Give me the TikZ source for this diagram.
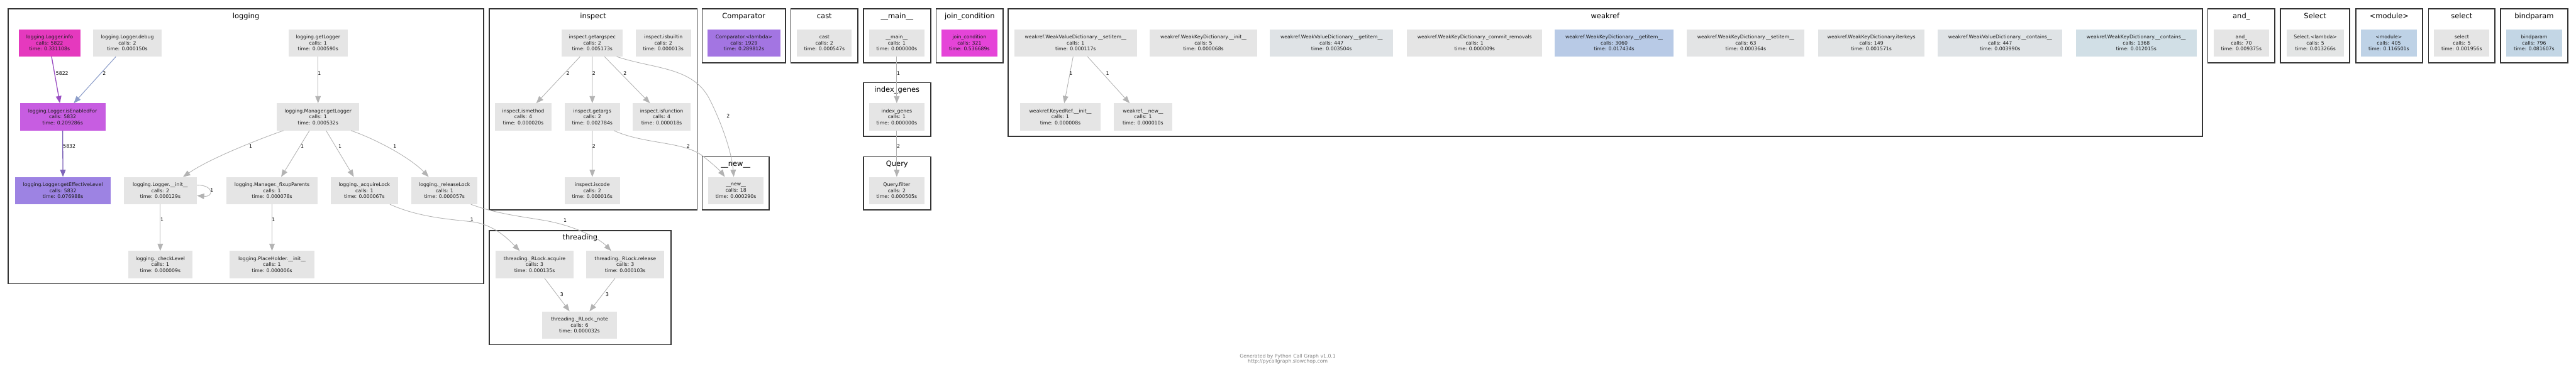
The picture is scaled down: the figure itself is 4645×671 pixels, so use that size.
\documentclass[tikz,border=0pt]{standalone}
\usepackage{fontspec}
\setmainfont{DejaVu Sans}
\usetikzlibrary{arrows.meta}
\definecolor{ngray}{HTML}{E5E5E5}
\definecolor{cbord}{HTML}{333333}
\definecolor{egray}{HTML}{B3B3B3}
\definecolor{txt}{HTML}{1A1A1A}
\definecolor{foot}{HTML}{808080}
\newcommand\nfont{\fontsize{8.8}{11}\selectfont}
\newcommand\clfont{\fontsize{13}{15}\selectfont}
\tikzset{
  fn/.style={rectangle, fill=ngray, draw=none, minimum height=49pt, inner sep=0pt, align=center, font=\nfont, text=txt},
  clbox/.style={draw=cbord, line width=2pt},
  cllab/.style={font=\clfont, anchor=base, text=black, inner sep=0pt},
  elab/.style={font=\nfont, text=black, inner sep=0pt},
  edg/.style={draw=egray, line width=1pt, -{Triangle[length=13pt,width=10pt]}},
}
\begin{document}
\begin{tikzpicture}[x=1pt,y=-1pt]
\useasboundingbox (0,0) rectangle (4645,671);
\fill[white] (0,0) rectangle (4645,671);

% clusters
\draw[clbox] (15,16) rectangle (872,512);
\node[cllab] (c-logging) at (443.5,33) {logging};
\draw[clbox] (882,16) rectangle (1257,379);
\node[cllab] (c-inspect) at (1069.5,33) {inspect};
\draw[clbox] (882,416) rectangle (1210,622);
\node[cllab] (c-threading) at (1046,433) {threading};
\draw[clbox] (1266,16) rectangle (1416,113);
\node[cllab] (c-comp) at (1341,33) {Comparator};
\draw[clbox] (1426,16) rectangle (1547,113);
\node[cllab] (c-cast) at (1486.5,33) {cast};
\draw[clbox] (1557,16) rectangle (1678,113);
\node[cllab] (c-main) at (1617.5,33) {\_\_main\_\_};
\draw[clbox] (1688,16) rectangle (1809,113);
\node[cllab] (c-join) at (1748.5,33) {join\_condition};
\draw[clbox] (1557,149) rectangle (1678,246);
\node[cllab] (c-ig) at (1617.5,166) {index\_genes};
\draw[clbox] (1557,283) rectangle (1678,379);
\node[cllab] (c-query) at (1617.5,300) {Query};
\draw[clbox] (1266,283) rectangle (1387,379);
\node[cllab] (c-new) at (1326.5,300) {\_\_new\_\_};
\draw[clbox] (1818,16) rectangle (3971,246);
\node[cllab] (c-weakref) at (2894.5,33) {weakref};
\draw[clbox] (3981,16) rectangle (4102,113);
\node[cllab] (c-and) at (4041.5,33) {and\_};
\draw[clbox] (4112,16) rectangle (4237,113);
\node[cllab] (c-select) at (4174.5,33) {Select};
\draw[clbox] (4248,16) rectangle (4368,113);
\node[cllab] (c-module) at (4308,33) {<module>};
\draw[clbox] (4379,16) rectangle (4499,113);
\node[cllab] (c-slc) at (4439,33) {select};
\draw[clbox] (4509,16) rectangle (4630,113);
\node[cllab] (c-bp) at (4569.5,33) {bindparam};

% logging nodes
\node[fn, fill={rgb,255:red,229;green,57;blue,190}, minimum width=111pt] (info) at (89.5,77.5) {logging.Logger.info\\calls: 5822\\time: 0.331108s};
\node[fn, minimum width=123pt] (debug) at (229.5,77.5) {logging.Logger.debug\\calls: 2\\time: 0.000150s};
\node[fn, minimum width=107pt] (getlogger) at (573.5,77.5) {logging.getLogger\\calls: 1\\time: 0.000590s};
\node[fn, fill={rgb,255:red,199;green,93;blue,225}, minimum width=154pt] (ien) at (113,211) {logging.Logger.isEnabledFor\\calls: 5832\\time: 0.209286s};
\node[fn, minimum width=149pt] (mgl) at (573.5,211) {logging.Manager.getLogger\\calls: 1\\time: 0.000532s};
\node[fn, fill={rgb,255:red,157;green,131;blue,227}, minimum width=173pt] (gel) at (113.5,344) {logging.Logger.getEffectiveLevel\\calls: 5832\\time: 0.076988s};
\node[fn, minimum width=132pt] (linit) at (289,344) {logging.Logger.\_\_init\_\_\\calls: 2\\time: 0.000129s};
\node[fn, minimum width=165pt] (fixup) at (490.5,344) {logging.Manager.\_fixupParents\\calls: 1\\time: 0.000078s};
\node[fn, minimum width=122pt] (acq) at (657,344) {logging.\_acquireLock\\calls: 1\\time: 0.000067s};
\node[fn, minimum width=119pt] (rel) at (801.5,344) {logging.\_releaseLock\\calls: 1\\time: 0.000057s};
\node[fn, minimum width=116pt] (chk) at (289,477.5) {logging.\_checkLevel\\calls: 1\\time: 0.000009s};
\node[fn, minimum width=153pt] (ph) at (490.5,477.5) {logging.PlaceHolder.\_\_init\_\_\\calls: 1\\time: 0.000006s};

% inspect nodes
\node[fn, minimum width=110pt] (gas) at (1068,77.5) {inspect.getargspec\\calls: 2\\time: 0.005173s};
\node[fn, minimum width=100pt] (isb) at (1196,77.5) {inspect.isbuiltin\\calls: 2\\time: 0.000013s};
\node[fn, minimum width=101pt] (ism) at (943.5,211) {inspect.ismethod\\calls: 4\\time: 0.000020s};
\node[fn, minimum width=100pt] (ga) at (1068,211) {inspect.getargs\\calls: 2\\time: 0.002784s};
\node[fn, minimum width=104pt] (isf) at (1193,211) {inspect.isfunction\\calls: 4\\time: 0.000018s};
\node[fn, minimum width=100pt] (isc) at (1068,344) {inspect.iscode\\calls: 2\\time: 0.000016s};

% threading nodes
\node[fn, minimum width=140pt] (ra) at (964,477.5) {threading.\_RLock.acquire\\calls: 3\\time: 0.000135s};
\node[fn, minimum width=141pt] (rr) at (1127.5,477.5) {threading.\_RLock.release\\calls: 3\\time: 0.000103s};
\node[fn, minimum width=134pt] (rn) at (1045,586.5) {threading.\_RLock.\_note\\calls: 6\\time: 0.000032s};

% small clusters
\node[fn, fill={rgb,255:red,163;green,117;blue,226}, minimum width=131pt] (comp) at (1341.5,77.5) {Comparator.<lambda>\\calls: 1929\\time: 0.289812s};
\node[fn, minimum width=99pt] (cast) at (1486.5,77.5) {cast\\calls: 2\\time: 0.000547s};
\node[fn, minimum width=100pt] (main) at (1617,77.5) {\_\_main\_\_\\calls: 1\\time: 0.000000s};
\node[fn, fill={rgb,255:red,229;green,68;blue,216}, minimum width=100pt] (join) at (1748,77.5) {join\_condition\\calls: 321\\time: 0.536689s};
\node[fn, minimum width=100pt] (ig) at (1617,211) {index\_genes\\calls: 1\\time: 0.000000s};
\node[fn, minimum width=100pt] (qf) at (1617,344) {Query.filter\\calls: 2\\time: 0.000505s};
\node[fn, minimum width=100pt] (new) at (1327,344) {\_\_new\_\_\\calls: 18\\time: 0.000290s};

% weakref nodes
\node[fn, minimum width=221pt] (wvset) at (1939.5,77.5) {weakref.WeakValueDictionary.\_\_setitem\_\_\\calls: 1\\time: 0.000117s};
\node[fn, minimum width=194pt] (wkinit) at (2170,77.5) {weakref.WeakKeyDictionary.\_\_init\_\_\\calls: 5\\time: 0.000068s};
\node[fn, fill={rgb,255:red,223;green,227;blue,230}, minimum width=222pt] (wvget) at (2401,77.5) {weakref.WeakValueDictionary.\_\_getitem\_\_\\calls: 447\\time: 0.003504s};
\node[fn, minimum width=244pt] (wkcommit) at (2659,77.5) {weakref.WeakKeyDictionary.\_commit\_removals\\calls: 1\\time: 0.000009s};
\node[fn, fill={rgb,255:red,184;green,202;blue,230}, minimum width=215pt] (wkget) at (2910.5,77.5) {weakref.WeakKeyDictionary.\_\_getitem\_\_\\calls: 3060\\time: 0.017434s};
\node[fn, fill={rgb,255:red,227;green,228;blue,229}, minimum width=212pt] (wkset) at (3148,77.5) {weakref.WeakKeyDictionary.\_\_setitem\_\_\\calls: 63\\time: 0.000364s};
\node[fn, fill={rgb,255:red,226;green,228;blue,229}, minimum width=191pt] (wkiter) at (3374.5,77.5) {weakref.WeakKeyDictionary.iterkeys\\calls: 149\\time: 0.001571s};
\node[fn, fill={rgb,255:red,223;green,227;blue,230}, minimum width=225pt] (wvcont) at (3606.5,77.5) {weakref.WeakValueDictionary.\_\_contains\_\_\\calls: 447\\time: 0.003990s};
\node[fn, fill={rgb,255:red,209;green,223;blue,230}, minimum width=218pt] (wkcont) at (3852,77.5) {weakref.WeakKeyDictionary.\_\_contains\_\_\\calls: 1368\\time: 0.012015s};
\node[fn, minimum width=146pt] (keyed) at (1912,211) {weakref.KeyedRef.\_\_init\_\_\\calls: 1\\time: 0.000008s};
\node[fn, minimum width=106pt] (wnew) at (2061,211) {weakref.\_\_new\_\_\\calls: 1\\time: 0.000010s};

% right clusters
\node[fn, minimum width=100pt] (and) at (4041.5,77.5) {and\_\\calls: 70\\time: 0.009375s};
\node[fn, fill={rgb,255:red,227;green,229;blue,229}, minimum width=104pt] (sel) at (4175,77.5) {Select.<lambda>\\calls: 5\\time: 0.013266s};
\node[fn, fill={rgb,255:red,190;green,210;blue,230}, minimum width=100pt] (mod) at (4307.5,77.5) {<module>\\calls: 405\\time: 0.116501s};
\node[fn, minimum width=100pt] (slc) at (4439,77.5) {select\\calls: 5\\time: 0.001956s};
\node[fn, fill={rgb,255:red,195;green,214;blue,229}, minimum width=100pt] (bp) at (4569.5,77.5) {bindparam\\calls: 796\\time: 0.081607s};

% edges: logging
\draw[edg, draw={rgb,255:red,154;green,77;blue,194}, line width=1.5pt] ([xshift=3.5pt]info.south) -- ([xshift=-5pt]ien.north);
\draw[edg, draw={rgb,255:red,140;green,157;blue,201}, line width=1.2pt] ([xshift=-20.5pt]debug.south) -- ([xshift=20pt]ien.north);
\draw[edg, draw={rgb,255:red,126;green,101;blue,185}, line width=1.5pt] (ien.south) -- ([xshift=0.5pt]gel.north -| ien.south);
\draw[edg] (getlogger.south) -- (mgl.north);
\draw[edg] ([xshift=-62.5pt]mgl.south) .. controls (470,250) and (380,285) .. ([xshift=41pt]linit.north);
\draw[edg] ([xshift=-15.5pt]mgl.south) -- ([xshift=16.5pt]fixup.north);
\draw[edg] ([xshift=14.5pt]mgl.south) -- ([xshift=-19pt]acq.north);
\draw[edg] ([xshift=59.5pt]mgl.south) .. controls (680,252) and (740,285) .. ([xshift=-28.5pt]rel.north);
\draw[edg] ([yshift=10pt]linit.east) .. controls (386,334) and (386,356) .. ([yshift=-9pt]linit.east);
\draw[edg] (linit.south) -- (chk.north);
\draw[edg] (fixup.south) -- (ph.north);
\draw[edg] ([xshift=46pt]acq.south) .. controls (750,390) and (800,395) .. (850,400) .. controls (890,405) and (915,430) .. ([xshift=-27pt]ra.north);
\draw[edg] ([xshift=47.5pt]rel.south) .. controls (900,388) and (960,393) .. (993,400) .. controls (1040,410) and (1080,430) .. ([xshift=-25.5pt]rr.north);
% threading
\draw[edg] ([xshift=18pt]ra.south) -- ([xshift=-18pt]rn.north);
\draw[edg] ([xshift=-18.5pt]rr.south) -- ([xshift=18pt]rn.north);
% inspect
\draw[edg] ([xshift=-22pt]gas.south) -- ([xshift=23.5pt]ism.north);
\draw[edg] (gas.south) -- (ga.north);
\draw[edg] ([xshift=22pt]gas.south) -- ([xshift=-21pt]isf.north);
\draw[edg] (ga.south) -- (isc.north);
\draw[edg] ([xshift=44pt]gas.south) .. controls (1180,125) and (1250,120) .. (1280,180) .. controls (1305,230) and (1320,280) .. ([xshift=-4pt]new.north);
\draw[edg] ([xshift=39pt]ga.south) .. controls (1160,260) and (1230,255) .. (1265,280) .. controls (1285,295) and (1300,310) .. ([xshift=-20pt]new.north);
% main
\draw[edg] (main.south) -- (ig.north);
\draw[edg] (ig.south) -- (qf.north);
% weakref
\draw[edg] ([xshift=-4.5pt]wvset.south) -- ([xshift=7pt]keyed.north);
\draw[edg] ([xshift=21.5pt]wvset.south) -- ([xshift=-24pt]wnew.north);

% edge labels
\node[elab] (l01) at (112,132) {5822};
\node[elab] (l02) at (188,132) {2};
\node[elab] (l03) at (125,264) {5832};
\node[elab] (l04) at (576,132) {1};
\node[elab] (l05) at (452,264) {1};
\node[elab] (l06) at (545,264) {1};
\node[elab] (l07) at (613,264) {1};
\node[elab] (l08) at (712,264) {1};
\node[elab] (l09) at (382,343) {1};
\node[elab] (l10) at (292,397) {1};
\node[elab] (l11) at (493,397) {1};
\node[elab] (l12) at (851,397) {1};
\node[elab] (l13) at (1019,398) {1};
\node[elab] (l14) at (1013,532) {3};
\node[elab] (l15) at (1095,532) {3};
\node[elab] (l16) at (1024,132) {2};
\node[elab] (l17) at (1071,132) {2};
\node[elab] (l18) at (1127,132) {2};
\node[elab] (l19) at (1071,264) {2};
\node[elab] (l20) at (1313,209) {2};
\node[elab] (l21) at (1241,264) {2};
\node[elab] (l22) at (1620,132) {1};
\node[elab] (l23) at (1620,264) {2};
\node[elab] (l24) at (1931,132) {1};
\node[elab] (l25) at (1997,132) {1};

% footer
\node[font=\fontsize{8.8}{10}\selectfont, text=foot, align=center, inner sep=0pt] (footer) at (2322,648) {Generated by Python Call Graph v1.0.1\\http://pycallgraph.slowchop.com};
\end{tikzpicture}
\end{document}
